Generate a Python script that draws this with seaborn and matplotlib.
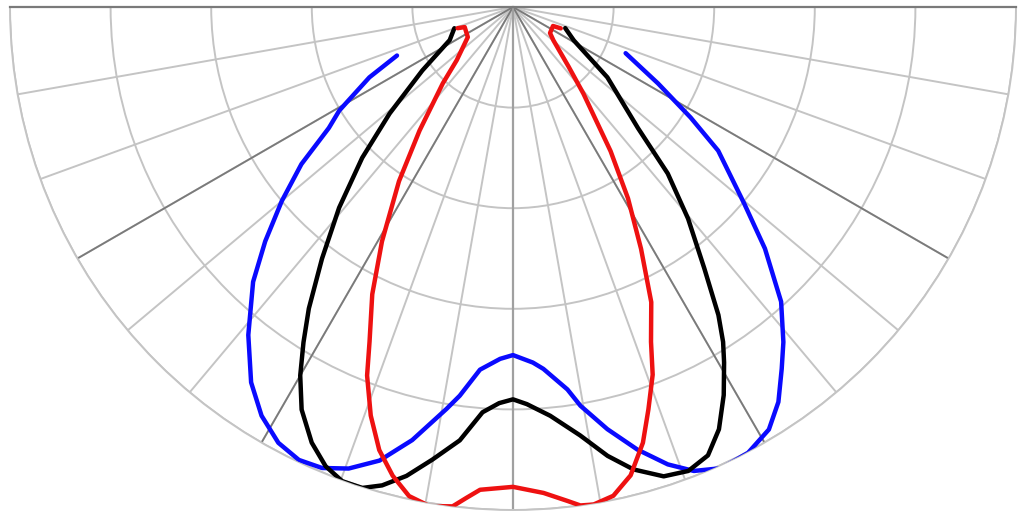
import numpy as np
import pandas as pd
import matplotlib
matplotlib.use("Agg")
import matplotlib.pyplot as plt
import seaborn as sns

# angle from nadir in degrees (negative = left side), intensity in grid units (outer ring = 500)
blue_angle = [-67.3, -63.9, -59.2, -56.7, -53.4, -50.0, -46.6, -43.4, -38.9, -34.9, -31.6,
              -28.3, -25.3, -22.5, -19.6, -16.4, -13.1, -9.4, -7.8, -5.2, -2.1, 0.0, 3.2,
              4.8, 8.1, 9.6, 12.6, 15.7, 18.7, 21.3, 24.3, 27.8, 31.2, 33.9, 36.6, 38.9,
              42.3, 46.2, 49.6, 55.0, 58.1, 62.2, 67.7]
blue_value = [125, 159, 201, 219, 262, 300, 339, 376, 419, 455, 477,
              492, 498, 496, 487, 470, 442, 405, 390, 362, 350, 346, 354,
              361, 384, 402, 430, 457, 480, 495, 503, 501, 491, 473, 448, 428,
              396, 347, 302, 249, 208, 163, 121]

black_angle = [-70.1, -62.4, -55.0, -49.2, -45.0, -40.9, -37.2, -34.1, -32.0, -30.0, -27.7,
               -24.8, -22.2, -19.8, -17.4, -15.3, -12.8, -10.1, -7.0, -4.3, -2.0, 0.0, 2.0,
               5.2, 8.9, 11.9, 14.6, 17.8, 20.7, 23.5, 26.0, 28.5, 30.7, 32.1, 33.7, 36.2,
               39.6, 42.9, 45.9, 53.3, 61.2, 68.0]
black_value = [62, 71, 110, 162, 212, 264, 314, 362, 393, 423, 452,
               477, 493, 501, 501, 493, 478, 457, 434, 404, 394, 390, 395,
               408, 431, 456, 475, 490, 493, 486, 467, 439, 411, 393, 368, 322,
               273, 226, 173, 117, 69, 56]

red_angle = [-69.1, -67.4, -56.3, -46.6, -42.6, -37.1, -33.2, -29.2, -26.1, -23.2, -21.6,
             -19.2, -16.8, -14.4, -12.0, -9.5, -6.9, -5.4, -3.9, 0.0, 3.6, 6.3, 7.7,
             9.2, 11.6, 14.1, 16.6, 18.6, 20.8, 22.4, 25.1, 27.9, 31.0, 34.1, 39.1,
             43.0, 50.5, 54.9, 64.6, 65.9]
red_value = [59, 52, 54, 77, 103, 154, 207, 267, 318, 362, 394,
             430, 460, 481, 497, 503, 500, 490, 481, 477, 484, 494, 500,
             501, 496, 480, 452, 422, 391, 360, 324, 272, 222, 173, 111,
             81, 52, 45, 44, 52]

ring_values = [100, 200, 300, 400, 500]
spoke_angles = list(range(-90, 91, 10))
main_spokes = [-60, -30, 30, 60]

curves = pd.concat([
    pd.DataFrame({"angle": blue_angle, "value": blue_value, "curve": "blue"}),
    pd.DataFrame({"angle": black_angle, "value": black_value, "curve": "black"}),
    pd.DataFrame({"angle": red_angle, "value": red_value, "curve": "red"}),
], ignore_index=True)
curves["theta"] = np.radians(curves["angle"])

sns.set_style("white")

fig = plt.figure(figsize=(10.24, 5.21), dpi=100)
# square box: the half wedge sits centred in it, top edge ~7 px below the figure top
ax = fig.add_axes([10 / 1024, -240.5 / 521, 1006 / 1024, 1006 / 521], projection="polar")
ax.set_theta_zero_location("S")
ax.set_theta_direction(1)
ax.set_thetamin(-90)
ax.set_thetamax(90)
ax.set_ylim(0, 500)

ax.set_thetagrids(spoke_angles, labels=[""] * len(spoke_angles))
ax.set_rgrids(ring_values, labels=[""] * len(ring_values))
ax.grid(True, color="#c4c4c4", linewidth=1.4)
ax.spines["polar"].set_color("#c4c4c4")
ax.spines["polar"].set_linewidth(1.4)
ax.spines["start"].set_color("#7a7a7a")
ax.spines["end"].set_color("#7a7a7a")
ax.spines["start"].set_linewidth(1.6)
ax.spines["end"].set_linewidth(1.6)

# darker spokes every 30 degrees, medium one at nadir
for a in main_spokes:
    ax.plot([np.radians(a)] * 2, [0, 500], color="#7a7a7a", linewidth=1.3, zorder=2)
ax.plot([0, 0], [0, 500], color="#a0a0a0", linewidth=1.6, zorder=2)

sns.lineplot(data=curves, x="theta", y="value", hue="curve",
             hue_order=["blue", "black", "red"],
             palette={"blue": "#0a0aff", "black": "#000000", "red": "#ee1111"},
             sort=False, estimator=None, legend=False, linewidth=3.2,
             solid_joinstyle="round", solid_capstyle="round", ax=ax, zorder=3)

ax.set_xlabel("")
ax.set_ylabel("")
ax.tick_params(length=0)

fig.savefig("out.png", dpi=100, facecolor="white")
